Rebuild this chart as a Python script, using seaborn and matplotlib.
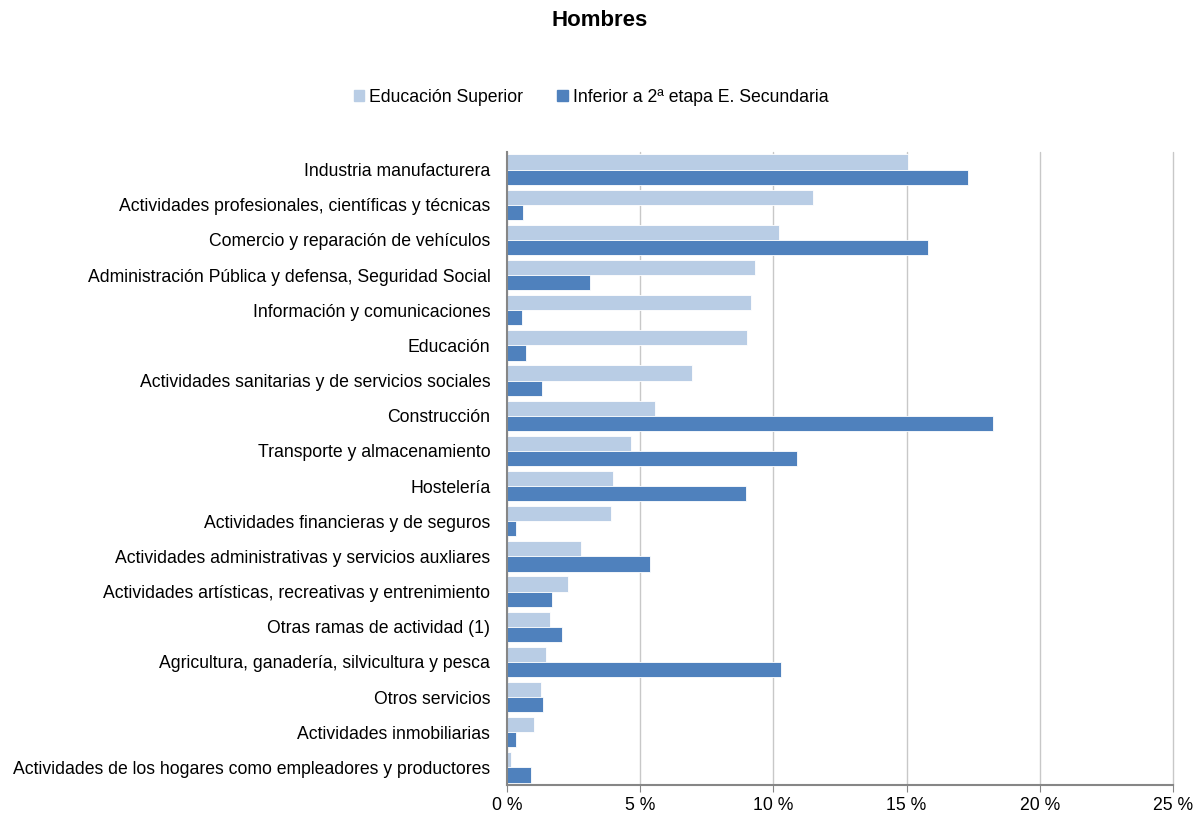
import pandas as pd
import matplotlib.pyplot as plt
import seaborn as sns

# Ramas de actividad (de arriba a abajo)
ramas = [
    'Industria manufacturera',
    'Actividades profesionales, científicas y técnicas',
    'Comercio y reparación de vehículos',
    'Administración Pública y defensa, Seguridad Social',
    'Información y comunicaciones',
    'Educación',
    'Actividades sanitarias y de servicios sociales',
    'Construcción',
    'Transporte y almacenamiento',
    'Hostelería',
    'Actividades financieras y de seguros',
    'Actividades administrativas y servicios auxliares',
    'Actividades artísticas, recreativas y entrenimiento',
    'Otras ramas de actividad (1)',
    'Agricultura, ganadería, silvicultura y pesca',
    'Otros servicios',
    'Actividades inmobiliarias',
    'Actividades de los hogares como empleadores y productores',
]

# Porcentajes
superior = [15.05, 11.5, 10.2, 9.3, 9.17, 9.0, 6.95, 5.55, 4.65, 3.97,
            3.9, 2.78, 2.28, 1.62, 1.47, 1.27, 1.02, 0.15]
inferior = [17.3, 0.6, 15.8, 3.13, 0.58, 0.72, 1.31, 18.25, 10.9, 8.97,
            0.35, 5.38, 1.68, 2.07, 10.3, 1.37, 0.34, 0.9]

series = ['Educación Superior', 'Inferior a 2ª etapa E. Secundaria']
colores = ['#B9CDE5', '#4F81BD']
xticks = [0, 5, 10, 15, 20, 25]

df = pd.DataFrame({
    'rama': ramas * 2,
    'valor': superior + inferior,
    'serie': [series[0]] * len(ramas) + [series[1]] * len(ramas),
})

sns.set_style('white')
plt.rcParams['font.family'] = ['Liberation Sans', 'DejaVu Sans']
plt.rcParams['text.color'] = 'black'
plt.rcParams['xtick.color'] = 'black'
plt.rcParams['ytick.color'] = 'black'

fig = plt.figure(figsize=(11.99, 8.16), dpi=100)
ax = fig.add_axes([507 / 1199, 1 - 785 / 816, (1173 - 507) / 1199, (785 - 152) / 816])

sns.barplot(data=df, x='valor', y='rama', hue='serie', orient='h',
            palette=colores, saturation=1, width=0.86, ax=ax, legend=False,
            edgecolor='white', linewidth=0.6)

ax.set_xlim(0, 25)
ax.set_xticks(xticks)
ax.set_xticklabels([f'{t} %' for t in xticks], fontsize=12.7)
ax.tick_params(axis='y', labelsize=12.7, length=0, pad=12)
ax.tick_params(axis='x', bottom=True, length=5, color='#868686', pad=4)
ax.set_xlabel('')
ax.set_ylabel('')
ax.grid(axis='x', color='#C8C8C8', linewidth=1)
for gl in ax.get_xgridlines():
    gl.set_clip_on(False)
ax.set_axisbelow(True)
for s in ['top', 'right']:
    ax.spines[s].set_visible(False)
ax.spines['left'].set_color('#868686')
ax.spines['bottom'].set_color('#868686')
ax.spines['left'].set_linewidth(1.5)
ax.spines['bottom'].set_linewidth(1.5)

# Leyenda
handles = [plt.Rectangle((0, 0), 1, 1, color=c) for c in colores]
fig.legend(handles, series, loc='center', bbox_to_anchor=(591 / 1199, 1 - 97 / 816),
           ncol=2, frameon=False, fontsize=12.7, handlelength=0.6, handleheight=0.6,
           handletextpad=0.3, columnspacing=1.9)

fig.text(600 / 1199, 1 - 20 / 816, 'Hombres', ha='center', va='center',
         fontsize=16, fontweight='bold')

fig.savefig('out.png', dpi=100)
